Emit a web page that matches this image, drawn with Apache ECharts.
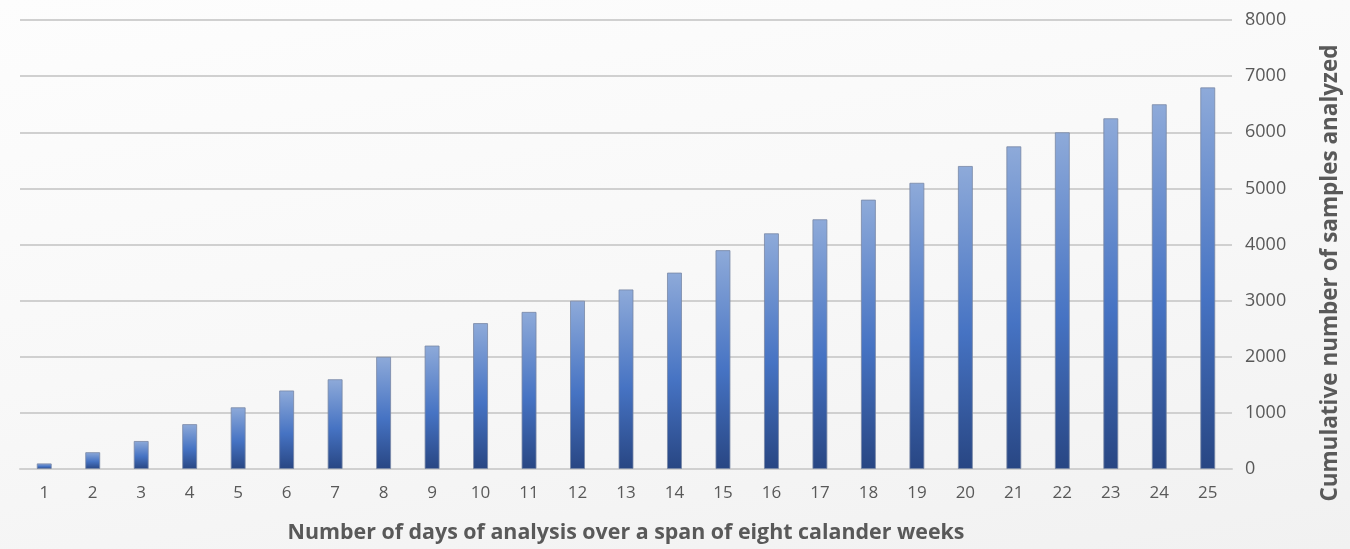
<!DOCTYPE html>
<html>
<head>
<meta charset="utf-8">
<script src="https://cdn.jsdelivr.net/npm/echarts@6/dist/echarts.min.js"></script>
<style>
html,body{margin:0;padding:0;}
#c{width:1350px;height:549px;background:linear-gradient(170deg,#fdfdfd 0%,#f8f8f8 50%,#f1f1f1 100%);}
</style>
</head>
<body>
<div id="c"></div>
<script>
const categories = ['1','2','3','4','5','6','7','8','9','10','11','12','13','14','15','16','17','18','19','20','21','22','23','24','25'];
const samples = [100,300,500,800,1100,1400,1600,2000,2200,2600,2800,3000,3200,3500,3900,4200,4450,4800,5100,5400,5750,6000,6250,6500,6800];
const xTitle = 'Number of days of analysis over a span of eight calander weeks';
const yTitle = 'Cumulative number of samples analyzed';

const chart = echarts.init(document.getElementById('c'), null, {renderer:'canvas'});
const font = '"Open Sans", "Noto Sans", sans-serif';
chart.setOption({
  backgroundColor: 'transparent',
  animation: false,
  grid: {left: 20, right: 118, top: 20, bottom: 80, containLabel: false},
  graphic: [{
    type: 'text',
    x: 1331, y: 273,
    rotation: Math.PI / 2,
    style: {
      text: yTitle,
      fill: '#595959',
      font: 'bold 22.5px ' + font,
      align: 'center',
      verticalAlign: 'middle'
    }
  }],
  xAxis: {
    type: 'category',
    data: categories,
    axisLine: {show: true, lineStyle: {color: '#d0d0d0', width: 2}},
    axisTick: {show: false},
    axisLabel: {color: '#595959', fontSize: 17, fontFamily: font, margin: 16},
    name: xTitle,
    nameLocation: 'middle',
    nameGap: 53,
    nameTextStyle: {color: '#595959', fontSize: 21.4, fontWeight: 'bold', fontFamily: font}
  },
  yAxis: {
    type: 'value',
    position: 'right',
    min: 0, max: 8000, interval: 1000,
    axisLine: {show: false},
    axisTick: {show: false},
    axisLabel: {color: '#595959', fontSize: 18, fontFamily: font, margin: 13, align: 'left',
      formatter: function (v) { return String(v); }},
    splitLine: {lineStyle: {color: '#d0d0d0', width: 2}}
  },
  series: [{
    type: 'bar',
    data: samples,
    barWidth: 15,
    itemStyle: {
      borderColor: 'rgba(120,135,165,0.8)',
      borderWidth: 1,
      color: new echarts.graphic.LinearGradient(0, 0, 0, 1, [
        {offset: 0, color: '#8eaad9'},
        {offset: 0.55, color: '#4673c3'},
        {offset: 1, color: '#284683'}
      ], false)
    }
  }]
});
</script>
</body>
</html>
